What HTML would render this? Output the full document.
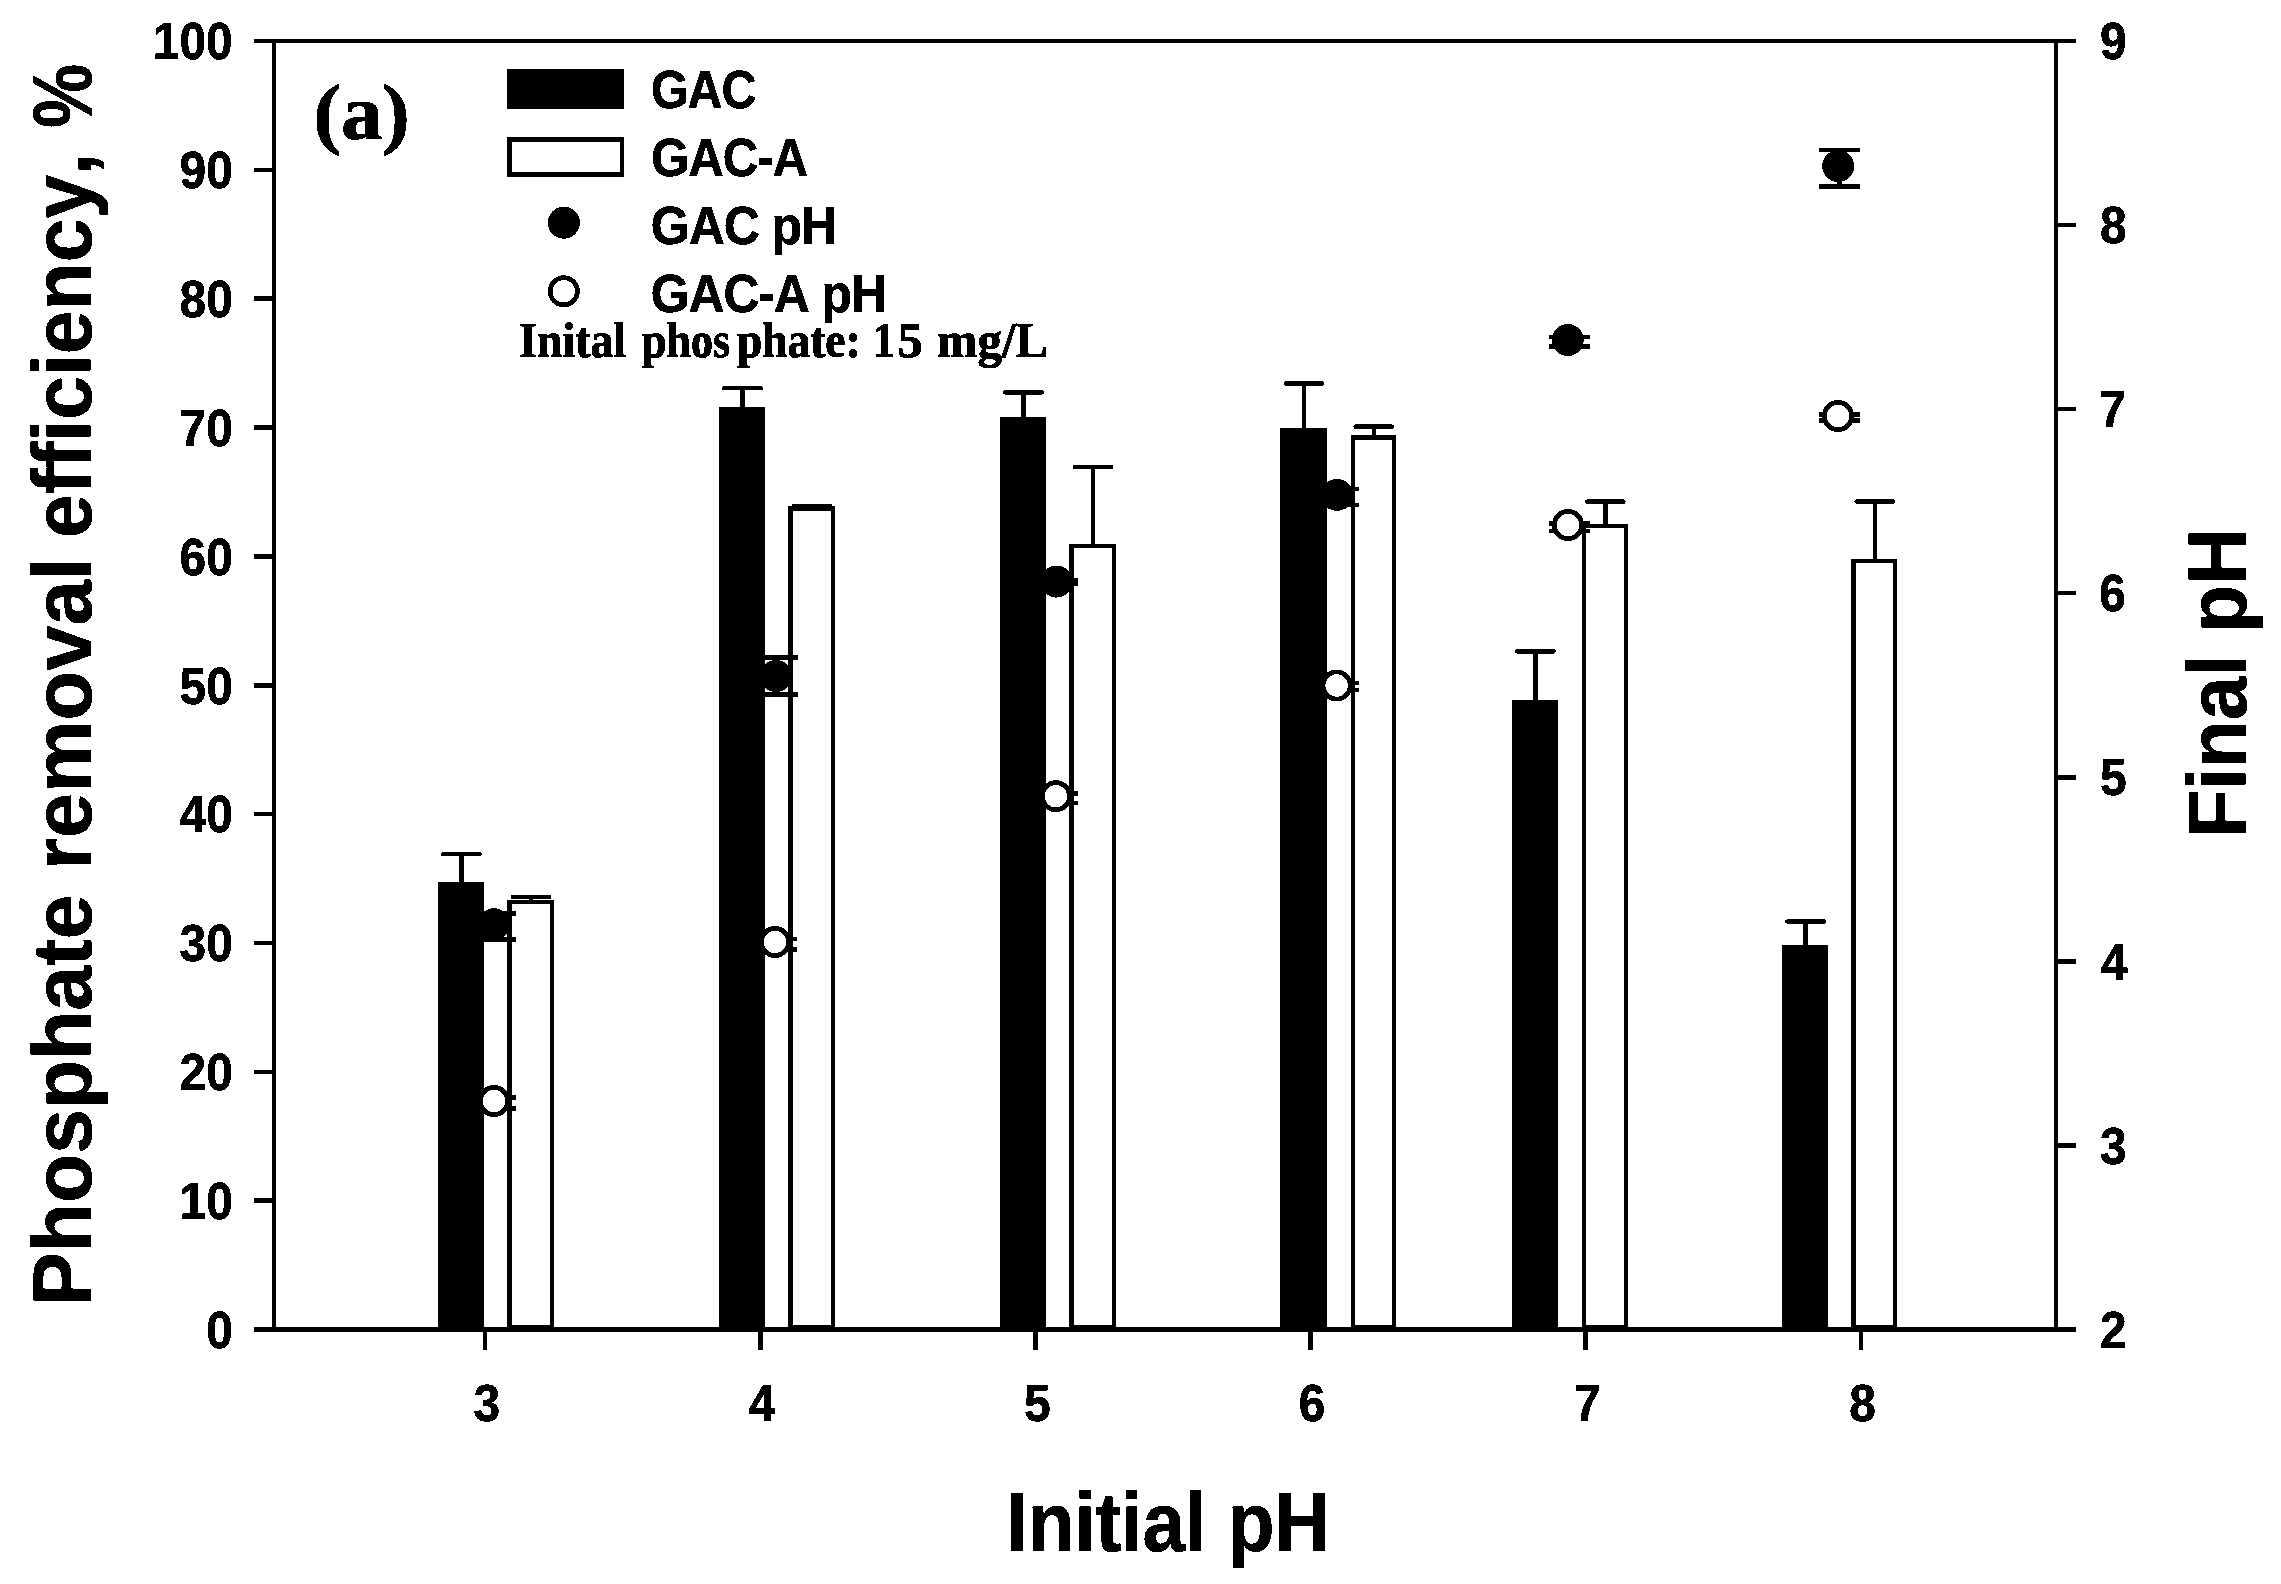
<!DOCTYPE html>
<html lang="en"><head><meta charset="utf-8"><title>Phosphate removal efficiency vs initial pH</title>
<style>html,body{margin:0;padding:0;background:#fff;width:2281px;height:1584px;overflow:hidden}svg{display:block}text{fill:#000;font-variant-ligatures:none;font-feature-settings:'liga' 0,'clig' 0;font-kerning:none}</style></head>
<body><svg width="2281" height="1584" viewBox="0 0 2281 1584">
<rect width="2281" height="1584" fill="#fff"/>
<g stroke="#000" fill="none" shape-rendering="crispEdges">
<line x1="461.50" y1="883.00" x2="461.50" y2="854.00" stroke-width="4.5" stroke-linecap="butt"/>
<line x1="443.25" y1="854.00" x2="479.75" y2="854.00" stroke-width="4.5" stroke-linecap="round"/>
<rect x="438.00" y="882.00" width="46.00" height="447.50" fill="#000" stroke="none"/>
<line x1="742.55" y1="408.00" x2="742.55" y2="388.20" stroke-width="4.5" stroke-linecap="butt"/>
<line x1="724.30" y1="388.20" x2="760.80" y2="388.20" stroke-width="4.5" stroke-linecap="round"/>
<rect x="719.10" y="407.00" width="45.90" height="922.50" fill="#000" stroke="none"/>
<line x1="1023.55" y1="417.80" x2="1023.55" y2="392.40" stroke-width="4.5" stroke-linecap="butt"/>
<line x1="1005.30" y1="392.40" x2="1041.80" y2="392.40" stroke-width="4.5" stroke-linecap="round"/>
<rect x="1000.10" y="416.80" width="45.90" height="912.70" fill="#000" stroke="none"/>
<line x1="1304.00" y1="429.20" x2="1304.00" y2="383.40" stroke-width="4.5" stroke-linecap="butt"/>
<line x1="1285.75" y1="383.40" x2="1322.25" y2="383.40" stroke-width="4.5" stroke-linecap="round"/>
<rect x="1280.20" y="428.20" width="46.60" height="901.30" fill="#000" stroke="none"/>
<line x1="1535.35" y1="701.20" x2="1535.35" y2="651.30" stroke-width="4.5" stroke-linecap="butt"/>
<line x1="1517.10" y1="651.30" x2="1553.60" y2="651.30" stroke-width="4.5" stroke-linecap="round"/>
<rect x="1512.00" y="700.20" width="45.70" height="629.30" fill="#000" stroke="none"/>
<line x1="1805.55" y1="946.20" x2="1805.55" y2="921.50" stroke-width="4.5" stroke-linecap="butt"/>
<line x1="1787.30" y1="921.50" x2="1823.80" y2="921.50" stroke-width="4.5" stroke-linecap="round"/>
<rect x="1782.40" y="945.20" width="45.30" height="384.30" fill="#000" stroke="none"/>
<line x1="531.15" y1="901.80" x2="531.15" y2="897.00" stroke-width="4.5" stroke-linecap="butt"/>
<line x1="512.90" y1="897.00" x2="549.40" y2="897.00" stroke-width="4.5" stroke-linecap="round"/>
<rect x="509.55" y="901.80" width="42.20" height="425.70" fill="#fff" stroke-width="4.5"/>
<line x1="812.10" y1="508.50" x2="812.10" y2="506.00" stroke-width="4.5" stroke-linecap="butt"/>
<line x1="793.85" y1="506.00" x2="830.35" y2="506.00" stroke-width="4.5" stroke-linecap="round"/>
<rect x="790.45" y="508.50" width="42.30" height="819.00" fill="#fff" stroke-width="4.5"/>
<line x1="1093.00" y1="546.00" x2="1093.00" y2="466.80" stroke-width="4.5" stroke-linecap="butt"/>
<line x1="1074.75" y1="466.80" x2="1111.25" y2="466.80" stroke-width="4.5" stroke-linecap="round"/>
<rect x="1071.25" y="546.00" width="42.50" height="781.50" fill="#fff" stroke-width="4.5"/>
<line x1="1373.75" y1="437.50" x2="1373.75" y2="426.60" stroke-width="4.5" stroke-linecap="butt"/>
<line x1="1355.50" y1="426.60" x2="1392.00" y2="426.60" stroke-width="4.5" stroke-linecap="round"/>
<rect x="1352.75" y="437.50" width="41.00" height="890.00" fill="#fff" stroke-width="4.5"/>
<line x1="1605.30" y1="526.00" x2="1605.30" y2="501.60" stroke-width="4.5" stroke-linecap="butt"/>
<line x1="1587.05" y1="501.60" x2="1623.55" y2="501.60" stroke-width="4.5" stroke-linecap="round"/>
<rect x="1583.85" y="526.00" width="41.90" height="801.50" fill="#fff" stroke-width="4.5"/>
<line x1="1874.80" y1="561.20" x2="1874.80" y2="501.50" stroke-width="4.5" stroke-linecap="butt"/>
<line x1="1856.55" y1="501.50" x2="1893.05" y2="501.50" stroke-width="4.5" stroke-linecap="round"/>
<rect x="1853.55" y="561.20" width="41.50" height="766.30" fill="#fff" stroke-width="4.5"/>
<line x1="495.50" y1="913.50" x2="495.50" y2="939.50" stroke-width="4.5" stroke-linecap="butt"/>
<line x1="475.00" y1="913.50" x2="516.00" y2="913.50" stroke-width="4.5" stroke-linecap="butt"/>
<line x1="475.00" y1="939.50" x2="516.00" y2="939.50" stroke-width="4.5" stroke-linecap="butt"/>
<circle cx="494.0" cy="924.2" r="16" fill="#000" stroke="none"/>
<line x1="777.50" y1="657.50" x2="777.50" y2="694.30" stroke-width="4.5" stroke-linecap="butt"/>
<line x1="757.00" y1="657.50" x2="798.00" y2="657.50" stroke-width="4.5" stroke-linecap="butt"/>
<line x1="757.00" y1="694.30" x2="798.00" y2="694.30" stroke-width="4.5" stroke-linecap="butt"/>
<circle cx="776.0" cy="676.0" r="16" fill="#000" stroke="none"/>
<line x1="1057.90" y1="580.00" x2="1057.90" y2="584.20" stroke-width="4.5" stroke-linecap="butt"/>
<line x1="1037.40" y1="580.00" x2="1078.40" y2="580.00" stroke-width="4.5" stroke-linecap="butt"/>
<line x1="1037.40" y1="584.20" x2="1078.40" y2="584.20" stroke-width="4.5" stroke-linecap="butt"/>
<circle cx="1056.4" cy="581.6" r="16" fill="#000" stroke="none"/>
<line x1="1338.50" y1="489.00" x2="1338.50" y2="505.00" stroke-width="4.5" stroke-linecap="butt"/>
<line x1="1318.00" y1="489.00" x2="1359.00" y2="489.00" stroke-width="4.5" stroke-linecap="butt"/>
<line x1="1318.00" y1="505.00" x2="1359.00" y2="505.00" stroke-width="4.5" stroke-linecap="butt"/>
<circle cx="1337.0" cy="495.0" r="16" fill="#000" stroke="none"/>
<line x1="1569.20" y1="337.20" x2="1569.20" y2="346.40" stroke-width="4.5" stroke-linecap="butt"/>
<line x1="1548.70" y1="337.20" x2="1589.70" y2="337.20" stroke-width="4.5" stroke-linecap="butt"/>
<line x1="1548.70" y1="346.40" x2="1589.70" y2="346.40" stroke-width="4.5" stroke-linecap="butt"/>
<circle cx="1567.7" cy="340.0" r="16" fill="#000" stroke="none"/>
<line x1="1839.70" y1="150.00" x2="1839.70" y2="186.60" stroke-width="4.5" stroke-linecap="butt"/>
<line x1="1819.20" y1="150.00" x2="1860.20" y2="150.00" stroke-width="4.5" stroke-linecap="butt"/>
<line x1="1819.20" y1="186.60" x2="1860.20" y2="186.60" stroke-width="4.5" stroke-linecap="butt"/>
<circle cx="1838.2" cy="166.0" r="16" fill="#000" stroke="none"/>
<line x1="495.50" y1="1097.50" x2="495.50" y2="1108.40" stroke-width="4.5" stroke-linecap="butt"/>
<line x1="475.00" y1="1097.50" x2="516.00" y2="1097.50" stroke-width="4.5" stroke-linecap="butt"/>
<line x1="475.00" y1="1108.40" x2="516.00" y2="1108.40" stroke-width="4.5" stroke-linecap="butt"/>
<circle cx="494.0" cy="1101.0" r="13.6" fill="#fff" stroke-width="4.8"/>
<line x1="776.50" y1="939.00" x2="776.50" y2="949.40" stroke-width="4.5" stroke-linecap="butt"/>
<line x1="756.00" y1="939.00" x2="797.00" y2="939.00" stroke-width="4.5" stroke-linecap="butt"/>
<line x1="756.00" y1="949.40" x2="797.00" y2="949.40" stroke-width="4.5" stroke-linecap="butt"/>
<circle cx="775.0" cy="941.9" r="13.6" fill="#fff" stroke-width="4.8"/>
<line x1="1057.40" y1="793.70" x2="1057.40" y2="803.20" stroke-width="4.5" stroke-linecap="butt"/>
<line x1="1036.90" y1="793.70" x2="1077.90" y2="793.70" stroke-width="4.5" stroke-linecap="butt"/>
<line x1="1036.90" y1="803.20" x2="1077.90" y2="803.20" stroke-width="4.5" stroke-linecap="butt"/>
<circle cx="1055.9" cy="796.2" r="13.6" fill="#fff" stroke-width="4.8"/>
<line x1="1338.10" y1="683.00" x2="1338.10" y2="690.00" stroke-width="4.5" stroke-linecap="butt"/>
<line x1="1317.60" y1="683.00" x2="1358.60" y2="683.00" stroke-width="4.5" stroke-linecap="butt"/>
<line x1="1317.60" y1="690.00" x2="1358.60" y2="690.00" stroke-width="4.5" stroke-linecap="butt"/>
<circle cx="1336.6" cy="685.5" r="13.6" fill="#fff" stroke-width="4.8"/>
<line x1="1569.50" y1="523.50" x2="1569.50" y2="531.00" stroke-width="4.5" stroke-linecap="butt"/>
<line x1="1549.00" y1="523.50" x2="1590.00" y2="523.50" stroke-width="4.5" stroke-linecap="butt"/>
<line x1="1549.00" y1="531.00" x2="1590.00" y2="531.00" stroke-width="4.5" stroke-linecap="butt"/>
<circle cx="1568.0" cy="525.0" r="13.6" fill="#fff" stroke-width="4.8"/>
<line x1="1839.50" y1="414.50" x2="1839.50" y2="420.70" stroke-width="4.5" stroke-linecap="butt"/>
<line x1="1819.00" y1="414.50" x2="1860.00" y2="414.50" stroke-width="4.5" stroke-linecap="butt"/>
<line x1="1819.00" y1="420.70" x2="1860.00" y2="420.70" stroke-width="4.5" stroke-linecap="butt"/>
<circle cx="1838.0" cy="416.0" r="13.6" fill="#fff" stroke-width="4.8"/>
<line x1="254.00" y1="41.00" x2="2076.00" y2="41.00" stroke-width="4" stroke-linecap="butt"/>
<line x1="254.00" y1="1329.50" x2="2076.00" y2="1329.50" stroke-width="5" stroke-linecap="butt"/>
<line x1="274.00" y1="41.00" x2="274.00" y2="1329.50" stroke-width="4" stroke-linecap="butt"/>
<line x1="2056.00" y1="41.00" x2="2056.00" y2="1329.50" stroke-width="4" stroke-linecap="butt"/>
<line x1="254.00" y1="1200.65" x2="274.00" y2="1200.65" stroke-width="4.5" stroke-linecap="butt"/>
<line x1="254.00" y1="1071.80" x2="274.00" y2="1071.80" stroke-width="4.5" stroke-linecap="butt"/>
<line x1="254.00" y1="942.95" x2="274.00" y2="942.95" stroke-width="4.5" stroke-linecap="butt"/>
<line x1="254.00" y1="814.10" x2="274.00" y2="814.10" stroke-width="4.5" stroke-linecap="butt"/>
<line x1="254.00" y1="685.25" x2="274.00" y2="685.25" stroke-width="4.5" stroke-linecap="butt"/>
<line x1="254.00" y1="556.40" x2="274.00" y2="556.40" stroke-width="4.5" stroke-linecap="butt"/>
<line x1="254.00" y1="427.55" x2="274.00" y2="427.55" stroke-width="4.5" stroke-linecap="butt"/>
<line x1="254.00" y1="298.70" x2="274.00" y2="298.70" stroke-width="4.5" stroke-linecap="butt"/>
<line x1="254.00" y1="169.85" x2="274.00" y2="169.85" stroke-width="4.5" stroke-linecap="butt"/>
<line x1="2056.00" y1="1145.43" x2="2076.00" y2="1145.43" stroke-width="4.5" stroke-linecap="butt"/>
<line x1="2056.00" y1="961.36" x2="2076.00" y2="961.36" stroke-width="4.5" stroke-linecap="butt"/>
<line x1="2056.00" y1="777.29" x2="2076.00" y2="777.29" stroke-width="4.5" stroke-linecap="butt"/>
<line x1="2056.00" y1="593.21" x2="2076.00" y2="593.21" stroke-width="4.5" stroke-linecap="butt"/>
<line x1="2056.00" y1="409.14" x2="2076.00" y2="409.14" stroke-width="4.5" stroke-linecap="butt"/>
<line x1="2056.00" y1="225.07" x2="2076.00" y2="225.07" stroke-width="4.5" stroke-linecap="butt"/>
<line x1="484.80" y1="1329.50" x2="484.80" y2="1349.50" stroke-width="4.5" stroke-linecap="butt"/>
<line x1="760.60" y1="1329.50" x2="760.60" y2="1349.50" stroke-width="4.5" stroke-linecap="butt"/>
<line x1="1035.70" y1="1329.50" x2="1035.70" y2="1349.50" stroke-width="4.5" stroke-linecap="butt"/>
<line x1="1310.50" y1="1329.50" x2="1310.50" y2="1349.50" stroke-width="4.5" stroke-linecap="butt"/>
<line x1="1585.70" y1="1329.50" x2="1585.70" y2="1349.50" stroke-width="4.5" stroke-linecap="butt"/>
<line x1="1861.00" y1="1329.50" x2="1861.00" y2="1349.50" stroke-width="4.5" stroke-linecap="butt"/>
<rect x="507" y="69" width="117" height="40" fill="#000" stroke="none"/>
<rect x="509.25" y="139.25" width="112.5" height="35.2" fill="#fff" stroke-width="4.5"/>
<circle cx="563.8" cy="222.7" r="16" fill="#000" stroke="none"/>
<circle cx="563.8" cy="291.3" r="13.6" fill="#fff" stroke-width="4.8"/>
</g>
<defs><filter id="bin" x="0" y="0" width="100%" height="100%" filterUnits="userSpaceOnUse" color-interpolation-filters="sRGB"><feComponentTransfer><feFuncA type="discrete" tableValues="0 1"/></feComponentTransfer></filter></defs>
<g filter="url(#bin)">
<text transform="translate(206.24,1347.80) scale(0.9207,1)" font-family="Liberation Sans, Arial, sans-serif" font-weight="bold" font-size="52" stroke="#000" stroke-width="0.6" stroke-linejoin="round">0</text>
<text transform="translate(179.54,1218.95) scale(0.9207,1)" font-family="Liberation Sans, Arial, sans-serif" font-weight="bold" font-size="52" stroke="#000" stroke-width="0.6" stroke-linejoin="round">10</text>
<text transform="translate(179.54,1090.10) scale(0.9207,1)" font-family="Liberation Sans, Arial, sans-serif" font-weight="bold" font-size="52" stroke="#000" stroke-width="0.6" stroke-linejoin="round">20</text>
<text transform="translate(179.54,961.25) scale(0.9207,1)" font-family="Liberation Sans, Arial, sans-serif" font-weight="bold" font-size="52" stroke="#000" stroke-width="0.6" stroke-linejoin="round">30</text>
<text transform="translate(179.54,832.40) scale(0.9207,1)" font-family="Liberation Sans, Arial, sans-serif" font-weight="bold" font-size="52" stroke="#000" stroke-width="0.6" stroke-linejoin="round">40</text>
<text transform="translate(179.54,703.55) scale(0.9207,1)" font-family="Liberation Sans, Arial, sans-serif" font-weight="bold" font-size="52" stroke="#000" stroke-width="0.6" stroke-linejoin="round">50</text>
<text transform="translate(179.54,574.70) scale(0.9207,1)" font-family="Liberation Sans, Arial, sans-serif" font-weight="bold" font-size="52" stroke="#000" stroke-width="0.6" stroke-linejoin="round">60</text>
<text transform="translate(179.54,445.85) scale(0.9207,1)" font-family="Liberation Sans, Arial, sans-serif" font-weight="bold" font-size="52" stroke="#000" stroke-width="0.6" stroke-linejoin="round">70</text>
<text transform="translate(179.54,317.00) scale(0.9207,1)" font-family="Liberation Sans, Arial, sans-serif" font-weight="bold" font-size="52" stroke="#000" stroke-width="0.6" stroke-linejoin="round">80</text>
<text transform="translate(179.54,188.15) scale(0.9207,1)" font-family="Liberation Sans, Arial, sans-serif" font-weight="bold" font-size="52" stroke="#000" stroke-width="0.6" stroke-linejoin="round">90</text>
<text transform="translate(152.84,59.30) scale(0.9207,1)" font-family="Liberation Sans, Arial, sans-serif" font-weight="bold" font-size="52" stroke="#000" stroke-width="0.6" stroke-linejoin="round">100</text>
<text transform="translate(2100.08,1347.70) scale(0.9207,1)" font-family="Liberation Sans, Arial, sans-serif" font-weight="bold" font-size="52" stroke="#000" stroke-width="0.6" stroke-linejoin="round">2</text>
<text transform="translate(2100.08,1163.63) scale(0.9207,1)" font-family="Liberation Sans, Arial, sans-serif" font-weight="bold" font-size="52" stroke="#000" stroke-width="0.6" stroke-linejoin="round">3</text>
<text transform="translate(2101.00,979.56) scale(0.9207,1)" font-family="Liberation Sans, Arial, sans-serif" font-weight="bold" font-size="52" stroke="#000" stroke-width="0.6" stroke-linejoin="round">4</text>
<text transform="translate(2100.08,795.49) scale(0.9207,1)" font-family="Liberation Sans, Arial, sans-serif" font-weight="bold" font-size="52" stroke="#000" stroke-width="0.6" stroke-linejoin="round">5</text>
<text transform="translate(2099.16,611.41) scale(0.9207,1)" font-family="Liberation Sans, Arial, sans-serif" font-weight="bold" font-size="52" stroke="#000" stroke-width="0.6" stroke-linejoin="round">6</text>
<text transform="translate(2099.16,427.34) scale(0.9207,1)" font-family="Liberation Sans, Arial, sans-serif" font-weight="bold" font-size="52" stroke="#000" stroke-width="0.6" stroke-linejoin="round">7</text>
<text transform="translate(2100.08,243.27) scale(0.9207,1)" font-family="Liberation Sans, Arial, sans-serif" font-weight="bold" font-size="52" stroke="#000" stroke-width="0.6" stroke-linejoin="round">8</text>
<text transform="translate(2100.08,59.20) scale(0.9207,1)" font-family="Liberation Sans, Arial, sans-serif" font-weight="bold" font-size="52" stroke="#000" stroke-width="0.6" stroke-linejoin="round">9</text>
<text transform="translate(473.51,1420.80) scale(0.9207,1)" font-family="Liberation Sans, Arial, sans-serif" font-weight="bold" font-size="52" stroke="#000" stroke-width="0.6" stroke-linejoin="round">3</text>
<text transform="translate(748.85,1420.80) scale(0.9207,1)" font-family="Liberation Sans, Arial, sans-serif" font-weight="bold" font-size="52" stroke="#000" stroke-width="0.6" stroke-linejoin="round">4</text>
<text transform="translate(1023.95,1420.80) scale(0.9207,1)" font-family="Liberation Sans, Arial, sans-serif" font-weight="bold" font-size="52" stroke="#000" stroke-width="0.6" stroke-linejoin="round">5</text>
<text transform="translate(1298.75,1420.80) scale(0.9207,1)" font-family="Liberation Sans, Arial, sans-serif" font-weight="bold" font-size="52" stroke="#000" stroke-width="0.6" stroke-linejoin="round">6</text>
<text transform="translate(1573.95,1420.80) scale(0.9207,1)" font-family="Liberation Sans, Arial, sans-serif" font-weight="bold" font-size="52" stroke="#000" stroke-width="0.6" stroke-linejoin="round">7</text>
<text transform="translate(1849.25,1420.80) scale(0.9207,1)" font-family="Liberation Sans, Arial, sans-serif" font-weight="bold" font-size="52" stroke="#000" stroke-width="0.6" stroke-linejoin="round">8</text>
<text transform="translate(651.01,107.90) scale(0.8974,1)" font-family="Liberation Sans, Arial, sans-serif" font-weight="bold" font-size="54" stroke="#000" stroke-width="0.6" stroke-linejoin="round" letter-spacing="-1.2">GAC</text>
<text transform="translate(650.98,176.00) scale(0.9124,1)" font-family="Liberation Sans, Arial, sans-serif" font-weight="bold" font-size="54" stroke="#000" stroke-width="0.6" stroke-linejoin="round" letter-spacing="-1.2">GAC-A</text>
<text transform="translate(650.85,244.00) scale(0.9270,1)" font-family="Liberation Sans, Arial, sans-serif" font-weight="bold" font-size="54" stroke="#000" stroke-width="0.6" stroke-linejoin="round" letter-spacing="-1.2">GAC pH</text>
<text transform="translate(650.85,312.00) scale(0.9232,1)" font-family="Liberation Sans, Arial, sans-serif" font-weight="bold" font-size="54" stroke="#000" stroke-width="0.6" stroke-linejoin="round" letter-spacing="-1.2">GAC-A pH</text>
<text transform="translate(313.50,139.30) scale(1.0655,1)" font-family="Liberation Serif, Times New Roman, serif" font-weight="bold" font-size="77.5" stroke="#000" stroke-width="1.0" stroke-linejoin="round">(a)</text>
<text transform="translate(1006.38,1551.10) scale(0.9235,1)" font-family="Liberation Sans, Arial, sans-serif" font-weight="bold" font-size="83" stroke="#000" stroke-width="0.6" stroke-linejoin="round">Initial pH</text>
<text transform="translate(2246.20,837.83) rotate(-90) scale(0.9467,1)" font-family="Liberation Sans, Arial, sans-serif" font-weight="bold" font-size="83" stroke="#000" stroke-width="0.6" stroke-linejoin="round">Final pH</text>
<text transform="translate(0,357.00)" font-family="Liberation Serif, Times New Roman, serif" font-weight="bold" font-size="51" stroke="#000" stroke-width="1.0" stroke-linejoin="round"><tspan x="519.20" textLength="106.84" lengthAdjust="spacingAndGlyphs">Inital</tspan> <tspan x="642.00" textLength="88.03" lengthAdjust="spacingAndGlyphs">phos</tspan><tspan x="736.90" textLength="123.83" lengthAdjust="spacingAndGlyphs">phate:</tspan> <tspan x="872.44" textLength="22.68" lengthAdjust="spacingAndGlyphs">1</tspan><tspan x="897.75" textLength="24.92" lengthAdjust="spacingAndGlyphs">5</tspan> <tspan x="936.74" textLength="111.38" lengthAdjust="spacingAndGlyphs">mg/L</tspan></text>
<text transform="translate(91.20,1300.70) rotate(-90)" font-family="Liberation Sans, Arial, sans-serif" font-weight="bold" font-size="82.5" stroke="#000" stroke-width="0.6" stroke-linejoin="round"><tspan x="-4.88" textLength="411.24" lengthAdjust="spacingAndGlyphs">Phosphate</tspan> <tspan x="430.97" textLength="312.09" lengthAdjust="spacingAndGlyphs">removal</tspan> <tspan x="762.74" textLength="385.24" lengthAdjust="spacingAndGlyphs">efficiency,</tspan> <tspan x="1172.75" textLength="64.24" lengthAdjust="spacingAndGlyphs">%</tspan></text>
</g>
</svg></body></html>
